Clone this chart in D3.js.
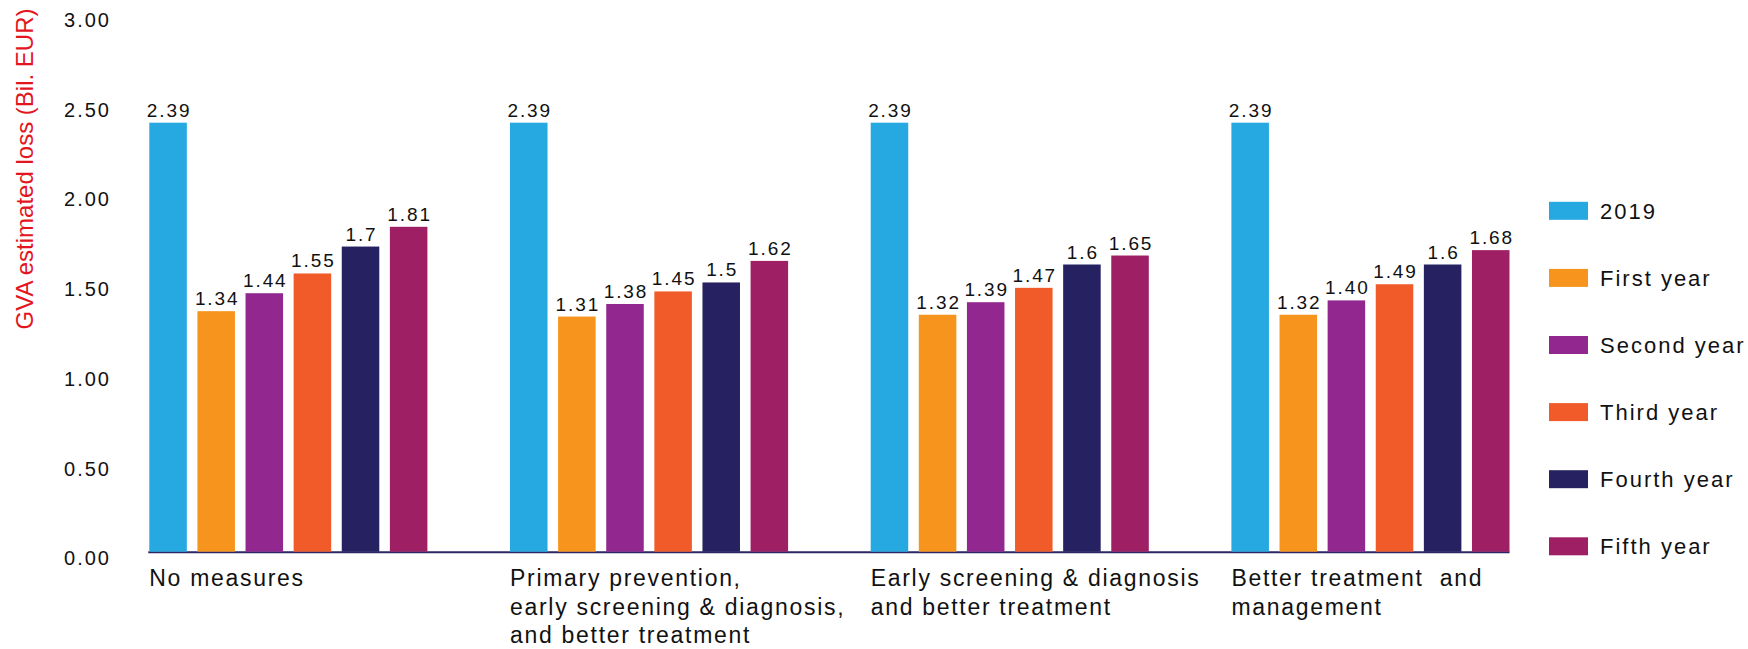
<!DOCTYPE html>
<html>
<head>
<meta charset="utf-8">
<script src="https://cdn.jsdelivr.net/npm/d3@7"></script>
<style>
  html, body { margin: 0; padding: 0; background: #ffffff; }
  svg { display: block; font-family: "Liberation Sans", Arial, Helvetica, sans-serif; }
</style>
</head>
<body>
<svg id="chart" width="1748" height="649"></svg>
<script>
// Scenario groups along the x axis (each label split into its printed lines)
const categories = ["No measures", "Primary prevention", "Early screening", "Better treatment"];
const categoryLines = [
  ["No measures"],
  ["Primary prevention,", "early screening & diagnosis,", "and better treatment"],
  ["Early screening & diagnosis", "and better treatment"],
  ["Better treatment  and", "management"]
];

// Series (one bar per series inside every group)
const seriesNames = ["2019", "First year", "Second year", "Third year", "Fourth year", "Fifth year"];
const seriesColors = ["#25a9e0", "#f7941d", "#92278f", "#f15a29", "#262262", "#9e1f63"];

// GVA estimated loss, billion EUR, per scenario
const noMeasures       = [2.39, 1.34, 1.44, 1.55, 1.7, 1.81];
const primaryPrevent   = [2.39, 1.31, 1.38, 1.45, 1.5, 1.62];
const earlyScreening   = [2.39, 1.32, 1.39, 1.47, 1.6, 1.65];
const betterTreatment  = [2.39, 1.32, 1.40, 1.49, 1.6, 1.68];

// Printed value labels (as shown above each bar)
const labelsNoMeasures      = ["2.39", "1.34", "1.44", "1.55", "1.7", "1.81"];
const labelsPrimaryPrevent  = ["2.39", "1.31", "1.38", "1.45", "1.5", "1.62"];
const labelsEarlyScreening  = ["2.39", "1.32", "1.39", "1.47", "1.6", "1.65"];
const labelsBetterTreatment = ["2.39", "1.32", "1.40", "1.49", "1.6", "1.68"];

// Y axis tick values
const yTicks = [0, 0.5, 1, 1.5, 2, 2.5, 3];

const yTitle = "GVA estimated loss (Bil. EUR)";

const values = [noMeasures, primaryPrevent, earlyScreening, betterTreatment];
const valueLabels = [labelsNoMeasures, labelsPrimaryPrevent, labelsEarlyScreening, labelsBetterTreatment];

const rows = [];
categories.forEach((c, ci) => {
  seriesNames.forEach((s, si) => {
    rows.push({ cat: c, ci, series: s, si, value: values[ci][si], label: valueLabels[ci][si] });
  });
});

const svg = d3.select("#chart");

// Scales
const x0 = d3.scaleBand()
  .domain(categories)
  .range([149.3, 1509.5])
  .paddingInner(0.229)
  .paddingOuter(0);

const x1 = d3.scaleBand()
  .domain(seriesNames)
  .range([0, x0.bandwidth()])
  .paddingInner(0.22)
  .paddingOuter(0);

const y = d3.scaleLinear()
  .domain([0, 3])
  .range([551.7, 13.2]);

const color = d3.scaleOrdinal().domain(seriesNames).range(seriesColors);

// Y axis: labels only, no line or tick marks
const yAxis = d3.axisLeft(y)
  .tickValues(yTicks)
  .tickSize(0)
  .tickPadding(0)
  .tickFormat(d3.format(".2f"));

const gy = svg.append("g")
  .attr("transform", "translate(111,0)")
  .call(yAxis);
gy.select(".domain").remove();
gy.selectAll("text")
  .attr("font-family", "\"Liberation Sans\", Arial, sans-serif")
  .attr("font-size", 20)
  .attr("letter-spacing", "2px")
  .attr("fill", "#111111")
  .attr("y", 6)
  .attr("dy", "0.36em");

// Y axis title
svg.append("text")
  .attr("transform", `translate(33,${169}) rotate(-90)`)
  .attr("text-anchor", "middle")
  .attr("font-size", 24)
  .attr("fill", "#e3161f")
  .text(yTitle);

// Baseline
svg.append("line")
  .attr("x1", x0(categories[0]) - 1)
  .attr("x2", x0(categories[categories.length - 1]) + x0.bandwidth())
  .attr("y1", y(0) + 0.5)
  .attr("y2", y(0) + 0.5)
  .attr("stroke", "#2b2566")
  .attr("stroke-width", 2);

// Bars
svg.append("g")
  .selectAll("rect")
  .data(rows)
  .join("rect")
  .attr("x", d => x0(d.cat) + x1(d.series))
  .attr("y", d => y(d.value))
  .attr("width", x1.bandwidth())
  .attr("height", d => y(0) - y(d.value))
  .attr("fill", d => color(d.series));

// Value labels above bars
svg.append("g")
  .selectAll("text")
  .data(rows)
  .join("text")
  .attr("x", d => x0(d.cat) + x1(d.series) + x1.bandwidth() / 2 + 1)
  .attr("y", d => y(d.value) - 6)
  .attr("text-anchor", "middle")
  .attr("font-size", 19)
  .attr("letter-spacing", "1.9px")
  .attr("fill", "#111111")
  .text(d => d.label);

// Category labels under each group
const catG = svg.append("g")
  .selectAll("text")
  .data(categories)
  .join("text")
  .attr("x", d => x0(d))
  .attr("y", 586)
  .attr("font-size", 23)
  .attr("letter-spacing", "1.7px")
  .attr("fill", "#111111")
  .style("white-space", "pre");

catG.each(function(d, i) {
  const t = d3.select(this);
  categoryLines[i].forEach((line, li) => {
    t.append("tspan")
      .attr("x", x0(d))
      .attr("dy", li === 0 ? 0 : 28.5)
      .text(line);
  });
});

// Legend
const legend = svg.append("g")
  .selectAll("g")
  .data(seriesNames)
  .join("g")
  .attr("transform", (d, i) => `translate(1549,${210.8 + i * 67.1})`);

legend.append("rect")
  .attr("x", 0)
  .attr("y", -9)
  .attr("width", 39)
  .attr("height", 18)
  .attr("fill", d => color(d));

legend.append("text")
  .attr("x", 51)
  .attr("y", 0)
  .attr("dy", "0.36em")
  .attr("font-size", 22)
  .attr("letter-spacing", "2px")
  .attr("fill", "#111111")
  .text(d => d);
</script>
</body>
</html>
